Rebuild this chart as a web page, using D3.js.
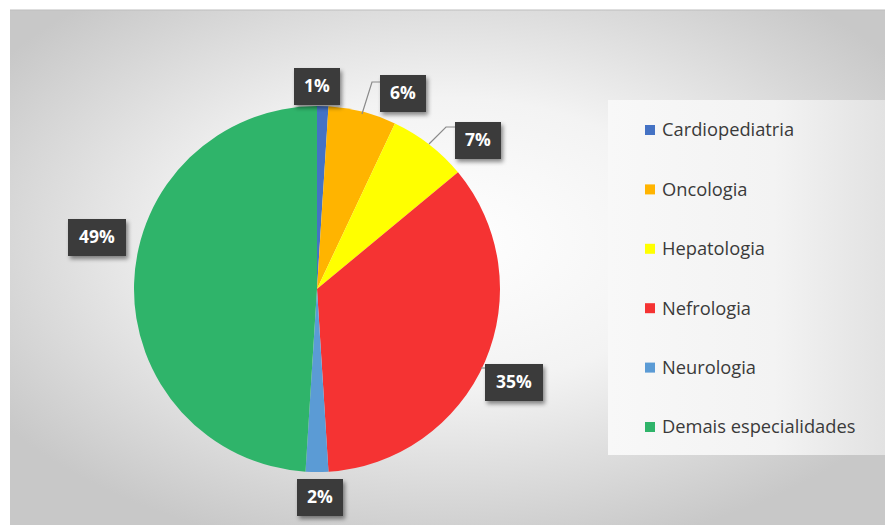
<!DOCTYPE html>
<html><head><meta charset="utf-8">
<script src="https://cdn.jsdelivr.net/npm/d3@7"></script>
<style>body{margin:0;background:#fff}svg{display:block}</style>
</head><body>
<svg id="c" width="885" height="527"></svg>
<script>
const categories = ["Cardiopediatria","Oncologia","Hepatologia","Nefrologia","Neurologia","Demais especialidades"];
const values = [1, 6, 7, 35, 2, 49];
const labels = ["1%","6%","7%","35%","2%","49%"];
const colors = ["#4472C4","#FFB400","#FFFF00","#F53333","#5B9BD5","#2FB46A"];

const svg = d3.select("#c");
const defs = svg.append("defs");
const rg = defs.append("radialGradient").attr("id","bg").attr("cx","0.5").attr("cy","0.45").attr("r","0.62");
rg.append("stop").attr("offset","0").attr("stop-color","#ffffff");
rg.append("stop").attr("offset","0.45").attr("stop-color","#f3f3f3");
rg.append("stop").attr("offset","1").attr("stop-color","#c8c8c8");
const lg = defs.append("linearGradient").attr("id","lgd").attr("x1","0").attr("x2","1");
lg.append("stop").attr("offset","0").attr("stop-color","#f8f8f8");
lg.append("stop").attr("offset","0.6").attr("stop-color","#f3f3f3");
lg.append("stop").attr("offset","1").attr("stop-color","#e2e2e2");
const sh = defs.append("filter").attr("id","sh").attr("x","-20%").attr("y","-20%").attr("width","150%").attr("height","160%");
sh.append("feDropShadow").attr("dx",2).attr("dy",3).attr("stdDeviation",2).attr("flood-color","#000").attr("flood-opacity",0.45);

svg.append("rect").attr("x",10).attr("y",10).attr("width",875).attr("height",515).attr("fill","url(#bg)");
svg.append("line").attr("x1",10).attr("x2",885).attr("y1",10).attr("y2",10).attr("stroke","#bdbdbd").attr("stroke-width",1);
svg.append("rect").attr("x",608).attr("y",100).attr("width",277).attr("height",355).attr("fill","url(#lgd)");

const cx = 317, cy = 289, R = 183;
const pie = d3.pie().sort(null).value(d => d)(values);
const arc = d3.arc().innerRadius(0).outerRadius(R);
const g = svg.append("g").attr("transform",`translate(${cx},${cy})`);
g.selectAll("path").data(pie).join("path")
  .attr("d", arc).attr("fill", (d,i) => colors[i]);

const boxPos = [
  {x:317, y:86, w:46},
  {x:403, y:93, w:46},
  {x:478, y:140, w:46},
  {x:514, y:382, w:58},
  {x:320, y:497, w:46},
  {x:97, y:237, w:58}
];
const leaders = [
  null,
  [[362,114],[372,82],[380,82]],
  [[429,144],[446,127],[456,127]],
  [[481,368],[485,368]],
  null,
  null
];
const ll = d3.line();
leaders.forEach(l => { if (l) svg.append("path").attr("d", ll(l)).attr("fill","none").attr("stroke","#8a8a8a").attr("stroke-width",1.2); });

const lab = svg.append("g");
labels.forEach((t,i) => {
  const b = boxPos[i];
  const gg = lab.append("g").attr("transform",`translate(${b.x},${b.y})`);
  gg.append("rect").attr("x",-b.w/2).attr("y",-18).attr("width",b.w).attr("height",37)
    .attr("fill","#3a3a3a").attr("filter","url(#sh)");
  gg.append("text").attr("text-anchor","middle").attr("dy","0.36em")
    .attr("font-family","'Open Sans', sans-serif").attr("font-weight","bold").attr("font-size",17.5)
    .attr("fill","#ffffff").text(t);
});

const leg = svg.append("g");
const ly = d3.scalePoint().domain(categories).range([130, 427]);
categories.forEach((c,i) => {
  leg.append("rect").attr("x",645).attr("y",ly(c)-5).attr("width",10).attr("height",10).attr("fill",colors[i]);
  leg.append("text").attr("x",662).attr("y",ly(c)).attr("dy","0.35em")
    .attr("font-family","'Open Sans', sans-serif").attr("font-size",18.3).attr("fill","#3a3a3a").text(c);
});
</script>
</body></html>
